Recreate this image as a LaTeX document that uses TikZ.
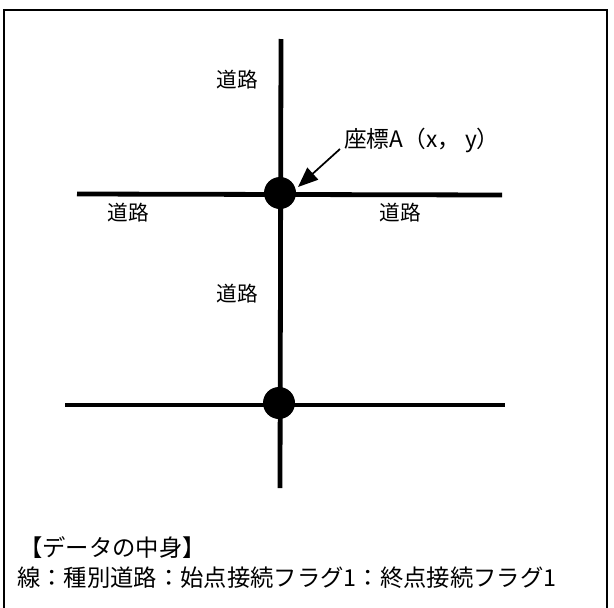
\documentclass[tikz,border=0pt]{standalone}
\usepackage{fontspec}
\setmainfont{Noto Sans CJK JP}
\usetikzlibrary{arrows.meta}
\tikzset{
  road/.style={line width=3.6pt, line cap=butt},
  junction/.style={circle, fill=black, draw=none, minimum size=24pt, inner sep=0pt},
  roadlabel/.style={font=\fontsize{15.5}{18}\selectfont, inner sep=0pt},
  datatext/.style={font=\fontsize{17.5}{20}\selectfont, inner sep=0pt, anchor=west},
  frame/.style={line width=1.5pt},
  pointer/.style={line width=1.3pt, -{Triangle[length=15pt, width=12pt]}}
}
\begin{document}
\begin{tikzpicture}[x=0.75pt, y=-0.75pt]
\useasboundingbox (0,0) rectangle (614,607);
\clip (0,0) rectangle (614,607);
\draw[frame] (4,10) rectangle (607,640);
% road ends
\coordinate (vtop) at (281,39);
\coordinate (vbot) at (280,488);
\coordinate (h1l) at (77,194);
\coordinate (h1r) at (502,195);
\coordinate (h2l) at (65,405);
\coordinate (h2r) at (505,405);
\draw[road] (vtop) -- (vbot);
\draw[road] (h1l) -- (h1r);
\draw[road] (h2l) -- (h2r);
\node[junction] (A) at (280,193) {};
\node[junction] (B) at (279,403) {};
% labels
\node[roadlabel] (l1) at (237,80) {道路};
\node[roadlabel] (l2) at (128,213) {道路};
\node[roadlabel] (l3) at (400,213) {道路};
\node[roadlabel] (l4) at (237,294) {道路};
\node[roadlabel, anchor=west, font=\fontsize{17}{19}\selectfont] (coord) at (344,140) {座標A（x， y）};
\coordinate (astart) at (340,149);
\coordinate (atip) at (298,187);
\draw[pointer] (astart) -- (atip);
% data text
\node[datatext] (d1) at (19,548) {【データの中身】};
\node[datatext] (d2) at (17,578) {線：種別道路：始点接続フラグ1：終点接続フラグ1};
\end{tikzpicture}
\end{document}
